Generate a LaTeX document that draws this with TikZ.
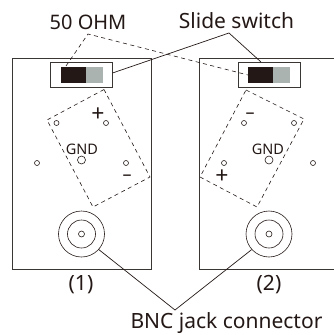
\documentclass[tikz,border=0pt]{standalone}
\usepackage{fontspec}
\setmainfont{Noto Sans}
\definecolor{ink}{HTML}{231815}
\definecolor{lever}{HTML}{ABB3B0}
\definecolor{frame}{HTML}{3A3634}
\tikzset{
  lbl/.style={text=ink,inner sep=0pt,font=\fontsize{21}{24}\selectfont},
  ohmlbl/.style={text=ink,inner sep=0pt,font=\fontsize{20}{24}\selectfont},
  small/.style={text=ink,inner sep=0pt,font=\fontsize{14.5}{17}\selectfont},
  sign/.style={text=ink,inner sep=0pt,font=\fontsize{23}{26}\selectfont\bfseries},
  minussign/.style={text=ink,inner sep=0pt,font=\fontsize{18}{20}\selectfont\bfseries},
  panel/.style={line width=0.9pt,draw=frame},
  switchbox/.style={draw=frame,line width=0.9pt,minimum width=62pt,minimum height=24.5pt,inner sep=0pt,fill=white},
  hole/.style={circle,draw=ink,line width=0.6pt,minimum size=5pt,inner sep=0pt},
  ring/.style={circle,draw=ink,line width=0.6pt,inner sep=0pt},
  dashline/.style={draw=ink,line width=0.6pt,dash pattern=on 4pt off 3.5pt},
  lead/.style={draw=ink,line width=0.7pt},
}
\begin{document}
\begin{tikzpicture}[x=1pt,y=-1pt]
\useasboundingbox (0,0) rectangle (334,335);
% panels
\draw[panel] (151,58) -- (12,58) -- (12,269.5) -- (151,269.5) -- cycle;
\draw[panel] (334,58) -- (199.5,58) -- (199.5,269.5) -- (334,269.5);
% rotated terminal outlines
\draw[dashline] (104,89.5) -- (47,120) -- (93,207) -- (150,177) -- cycle;
\draw[dashline] (246,90) -- (304,119) -- (257,207) -- (200,177) -- cycle;
% switches
\node[switchbox] (swL) at (81.5,74.8) {};
\node[switchbox] (swR) at (269,74.8) {};
\fill[ink] (61,67) rectangle (86,83);
\fill[lever] (86,67) rectangle (103,83);
\fill[ink] (248,67) rectangle (273,83);
\fill[lever] (273,67) rectangle (290,83);
% holes left
\node[hole] (h1) at (56.5,123) {};
\node[hole] (h2) at (106,123) {};
\node[hole] (h3) at (37,163) {};
\node[hole] (h4) at (126,163) {};
\node[hole,minimum size=8pt] (h5) at (81.5,160) {};
% holes right
\node[hole] (h6) at (244,123) {};
\node[hole] (h7) at (294,123) {};
\node[hole] (h8) at (224,163) {};
\node[hole] (h9) at (313,163) {};
\node[hole,minimum size=8pt] (h10) at (269,160) {};
% texts
\node[small] (gndL) at (82,149) {GND};
\node[small] (gndR) at (268,149) {GND};
\node[sign] (plusL) at (98,114.5) {+};
\node[minussign] (minusL) at (127,177.5) {–};
\node[minussign] (minusR) at (250,115.5) {–};
\node[sign] (plusR) at (222,177) {+};
% BNC
\node[ring,minimum size=46pt] (bncL) at (81.5,234) {};
\node[ring,minimum size=28pt] (bncLb) at (81.5,234) {};
\node[ring,minimum size=6pt] (bncLc) at (81.5,234) {};
\node[ring,minimum size=46pt] (bncR) at (269,234) {};
\node[ring,minimum size=28pt] (bncRb) at (269,234) {};
\node[ring,minimum size=6pt] (bncRc) at (269,234) {};
% labels
\node[ohmlbl] (ohm) at (88,22) {50 OHM};
\node[lbl] (slide) at (236.5,21) {Slide switch};
\node[lbl] (one) at (81,285) {(1)};
\node[lbl] (two) at (269,285) {(2)};
\node[lbl] (jack) at (226.5,323) {BNC jack connector};
% connectors
\coordinate (ohmApex) at (88,34);
\coordinate (ohmEndL) at (66,66);
\coordinate (ohmEndR) at (248,75);
\draw[dashline] (ohmEndL) -- (ohmApex) -- (ohmEndR);
\coordinate (slideApex) at (229,33);
\coordinate (slideEndL) at (112.5,73);
\coordinate (slideEndR) at (261,62);
\draw[lead] (slideEndL) -- (slideApex) -- (slideEndR);
\coordinate (jackApex) at (175,310);
\draw[lead] (bncL.-42) -- (jackApex) -- (bncR.222);
\end{tikzpicture}
\end{document}
